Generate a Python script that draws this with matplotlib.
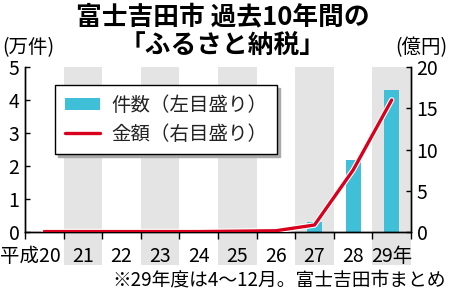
import numpy as np
import matplotlib
matplotlib.use("Agg")
import matplotlib.pyplot as plt
import matplotlib.patheffects as pe
from matplotlib.transforms import ScaledTranslation, blended_transform_factory
from matplotlib.patches import Rectangle

plt.rcParams['font.family'] = ['Noto Sans CJK JP', 'DejaVu Sans']

# データ（平成20〜29年度）
years = ['平成20', '21', '22', '23', '24', '25', '26', '27', '28', '29年']
counts = [0, 0, 0, 0, 0, 0, 0, 0.3, 2.18, 4.3]          # 件数（万件）
amounts = [0.05, 0.05, 0.05, 0.05, 0.05, 0.1, 0.15, 0.85, 7.5, 16.0]  # 金額（億円）

bar_color = '#40c0d8'
line_color = '#d8001c'

fig = plt.figure(figsize=(4.5, 2.91), dpi=100)
ax = fig.add_axes([25 / 450, 59 / 291, 386 / 450, 165 / 291])
ax2 = ax.twinx()

x = np.arange(len(years))

# 奇数年の灰色帯（目盛りラベルの下まで）
tr = blended_transform_factory(ax.transData, ax.transAxes)
for i in x:
    if i % 2 == 1:
        ax.add_patch(Rectangle((i - 0.5, -0.2), 1.0, 1.2, transform=tr,
                               facecolor='#e4e4e4', edgecolor='none',
                               clip_on=False, zorder=0))

ax.bar(x, counts, width=0.39, color=bar_color, zorder=2, label='件数（左目盛り）')
ax2.plot(x, amounts, color=line_color, linewidth=2.4, zorder=3,
         solid_capstyle='round', label='金額（右目盛り）',
         path_effects=[pe.Stroke(linewidth=4.0, foreground='white'), pe.Normal()])

ax.set_xlim(-0.5, len(years) - 0.5)
ax.set_ylim(0, 5)
ax2.set_ylim(0, 20)

ax.spines['top'].set_visible(False)
ax2.spines['top'].set_visible(False)
for a in (ax, ax2):
    for s in a.spines.values():
        s.set_linewidth(1.0)

ax.set_yticks(range(0, 6))
ax2.set_yticks(range(0, 21, 5))
ax.tick_params(axis='y', direction='in', length=3.5, width=1, pad=4, labelsize=14)
ax2.tick_params(axis='y', direction='in', length=3.5, width=1, pad=4, labelsize=14)

ax.set_xticks(x)
ax.set_xticklabels(years)
ax.set_xticks(np.arange(-0.5, len(years), 1.0), minor=True)
ax.tick_params(axis='x', which='major', length=0, pad=10, labelsize=14)
ax.tick_params(axis='x', which='minor', direction='out', length=5, width=1)

# 「平成20」を左へずらす
lbl0 = ax.get_xticklabels()[0]
lbl0.set_transform(lbl0.get_transform() + ScaledTranslation(-0.14, 0, fig.dpi_scale_trans))

# 凡例
h1, l1 = ax.get_legend_handles_labels()
h2, l2 = ax2.get_legend_handles_labels()
leg = ax2.legend(h1 + h2, l1 + l2, loc='upper left', bbox_to_anchor=(30 / 386, 1 - 18 / 165),
                 borderaxespad=0, fontsize=14, frameon=True, fancybox=False,
                 shadow={'color': '#aaaaaa', 'alpha': 1}, handlelength=1.8,
                 handleheight=0.6, handletextpad=0.6, borderpad=0.5,
                 labelspacing=0.4)
leg.get_frame().set_edgecolor('black')
leg.get_frame().set_linewidth(1.0)
for t in leg.get_texts():
    t.set_color('#222222')

# タイトルと単位
fig.text(0.495, 0.943, '富士吉田市 過去10年間の', ha='center', va='center',
         fontsize=18.5, fontweight='bold')
fig.text(0.495, 0.843, '「ふるさと納税」', ha='center', va='center',
         fontsize=18.5, fontweight='bold')
fig.text(0.005, 0.835, '(万件)', ha='left', va='center', fontsize=14)
fig.text(0.995, 0.835, '(億円)', ha='right', va='center', fontsize=14)
fig.text(0.99, 0.038, '※29年度は4〜12月。富士吉田市まとめ', ha='right', va='center',
         fontsize=13.5)

fig.savefig('out.png', dpi=100)
